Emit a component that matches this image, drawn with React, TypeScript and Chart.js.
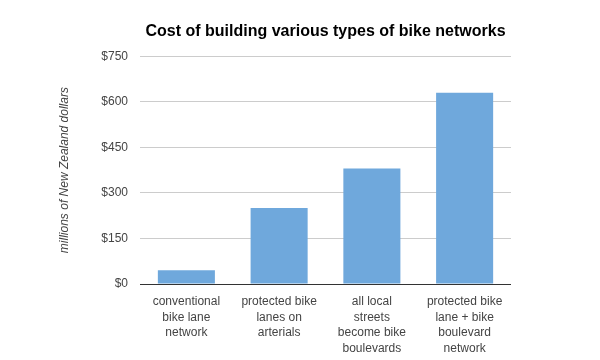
import React, { useEffect, useRef } from "react";
import { Chart, registerables } from "chart.js";

Chart.register(...registerables);

const categories: string[][] = [
  ["conventional", "bike lane", "network"],
  ["protected bike", "lanes on", "arterials"],
  ["all local", "streets", "become bike", "boulevards"],
  ["protected bike", "lane + bike", "boulevard", "network"],
];
const costs: number[] = [45, 250, 380, 630];
const yTicks: number[] = [0, 150, 300, 450, 600, 750];

const FONT = "'Liberation Sans', Arial, sans-serif";

export default function App() {
  const ref = useRef<HTMLCanvasElement | null>(null);
  useEffect(() => {
    if (!ref.current) return;
    const chart = new Chart(ref.current, {
      type: "bar",
      data: {
        labels: categories,
        datasets: [
          {
            data: costs,
            backgroundColor: "#6fa8dc",
            borderWidth: 0,
            categoryPercentage: 1,
            barPercentage: 0.615,
          },
        ],
      },
      options: {
        animation: false,
        responsive: false,
        maintainAspectRatio: false,
        layout: { padding: { left: 57, right: 89, top: 0, bottom: 0 } },
        plugins: {
          legend: { display: false },
          tooltip: { enabled: false },
          title: {
            display: true,
            text: "Cost of building various types of bike networks",
            color: "#000",
            fullSize: false,
            font: { family: FONT, size: 16, weight: "bold" },
            padding: { top: 22, bottom: 15 },
          },
        },
        scales: {
          x: {
            grid: { display: false },
            border: { display: false },
            ticks: {
              color: "#444",
              font: { family: FONT, size: 12, lineHeight: 1.3 },
              padding: 2,
              maxRotation: 0,
              autoSkip: false,
            },
            afterFit: (s: any) => {
              s.height = 76;
            },
          },
          y: {
            min: 0,
            max: 750,
            afterBuildTicks: (s: any) => {
              s.ticks = yTicks.map((v) => ({ value: v }));
            },
            grid: {
              drawTicks: false,
              color: (ctx: any) => (ctx.tick && ctx.tick.value === 0 ? "#333" : "#ccc"),
            },
            border: { display: false },
            ticks: {
              color: "#444",
              font: { family: FONT, size: 12 },
              padding: 12,
              callback: (v: any) => "$" + v,
            },
            title: {
              display: true,
              text: "millions of New Zealand dollars",
              color: "#444",
              font: { family: FONT, size: 12, style: "italic" },
              padding: 0,
            },
            afterFit: (s: any) => {
              s.width = 83;
            },
          },
        },
      },
    });
    return () => chart.destroy();
  }, []);
  return (
    <div style={{ position: "fixed", left: 0, top: 0, width: 600, height: 360, background: "#fff" }}>
      <canvas ref={ref} width={600} height={360} style={{ width: 600, height: 360 }} />
    </div>
  );
}
